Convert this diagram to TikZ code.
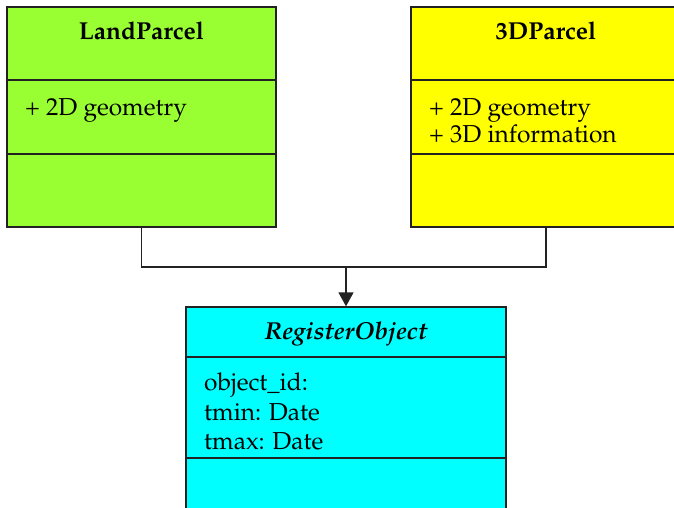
\documentclass[tikz,border=0pt]{standalone}
\usepackage[T1]{fontenc}
\usepackage{mathpazo}
\usetikzlibrary{arrows.meta}
\definecolor{lpgreen}{HTML}{99FF33}
\definecolor{tpyellow}{HTML}{FFFF00}
\definecolor{rocyan}{HTML}{00FFFF}
\definecolor{edge}{HTML}{222222}
\tikzset{
  classbox/.style={draw=edge, line width=1.4pt, rectangle, inner sep=0pt},
  divider/.style={draw=edge, line width=1.4pt},
  txt/.style={anchor=base west, inner sep=0pt, font=\fontsize{24.5}{29}\selectfont},
  ttl/.style={anchor=base, inner sep=0pt, font=\fontsize{24.5}{29}\selectfont\bfseries},
  conn/.style={draw=edge, line width=1.6pt},
}
\begin{document}
\begin{tikzpicture}[x=1pt,y=-1pt]
\useasboundingbox (0,0) rectangle (674,507);
\clip (0,0) rectangle (674,507);
% boxes
\node[classbox, fill=lpgreen, minimum width=269pt, minimum height=220pt] (lp) at (141.5,117) {};
\node[classbox, fill=tpyellow, minimum width=270pt, minimum height=220pt] (tp) at (546,117) {};
\node[classbox, fill=rocyan, minimum width=320pt, minimum height=240pt] (ro) at (346,427) {};
% dividers
\draw[divider] (lp.west |- 0,80) -- (lp.east |- 0,80);
\draw[divider] (lp.west |- 0,154) -- (lp.east |- 0,154);
\draw[divider] (tp.west |- 0,80) -- (tp.east |- 0,80);
\draw[divider] (tp.west |- 0,154) -- (tp.east |- 0,154);
\draw[divider] (ro.west |- 0,357) -- (ro.east |- 0,357);
\draw[divider] (ro.west |- 0,458) -- (ro.east |- 0,458);
% titles
\node[ttl] (lpt) at (141.5,39) {LandParcel};
\node[ttl] (tpt) at (546,39) {3DParcel};
\node[ttl, font=\fontsize{24.5}{29}\selectfont\bfseries\itshape] (rot) at (346,339) {RegisterObject};
% attributes
\node[txt] (lpa1) at (25,115) {+ 2D geometry};
\node[txt] (tpa1) at (429,115) {+ 2D geometry};
\node[txt] (tpa2) at (429,142) {+ 3D information};
\node[txt] (roa1) at (204,390) {object\_id:};
\node[txt] (roa2) at (204,420) {tmin: Date};
\node[txt] (roa3) at (204,449) {tmax: Date};
% connectors
\coordinate (j) at (346,267);
\draw[conn] (lp.south) |- (j) -| (tp.south);
\draw[conn, -{Triangle[width=15pt,length=14pt]}] (j) -- (ro.north);
\end{tikzpicture}
\end{document}
